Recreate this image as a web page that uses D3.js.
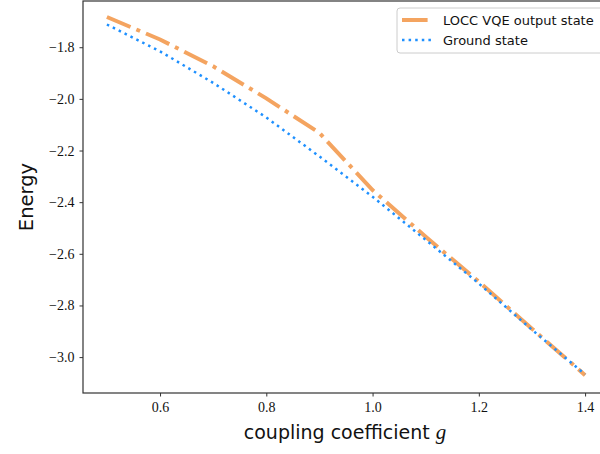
<!DOCTYPE html>
<html>
<head>
<meta charset="utf-8">
<script src="https://cdn.jsdelivr.net/npm/d3@7"></script>
<style>
  body { margin: 0; background: #fff; }
  .tick text { font-family: "Liberation Serif", "DejaVu Serif", serif; }
</style>
</head>
<body>
<div id="chart"></div>
<script>
// data
const couplingValues = [0.5, 0.6, 0.7, 0.8, 0.9, 1.0, 1.1, 1.2, 1.3, 1.4];
const loccEnergy = [-1.683, -1.770, -1.874, -1.998, -2.132, -2.353, -2.534, -2.708, -2.890, -3.070];
const groundEnergy = [-1.712, -1.816, -1.938, -2.072, -2.223, -2.379, -2.546, -2.715, -2.894, -3.067];
const xTicks = [0.6, 0.8, 1.0, 1.2, 1.4];
const yTicks = [-1.8, -2.0, -2.2, -2.4, -2.6, -2.8, -3.0];
const seriesNames = ['LOCC VQE output state', 'Ground state'];

const width = 600, height = 454;
const margin = { top: 1, right: -9, bottom: 61, left: 83 };
const innerW = width - margin.left - margin.right;
const innerH = height - margin.top - margin.bottom;

const svg = d3.select('#chart').append('svg')
  .attr('width', width)
  .attr('height', height);

const g = svg.append('g')
  .attr('transform', `translate(${margin.left},${margin.top})`);

// scales, with matplotlib style 5% padding
const xScale = d3.scaleLinear().domain([0.455, 1.445]).range([0, innerW]);
const yScale = d3.scaleLinear().domain([-3.139, -1.621]).range([innerH, 0]);

const fmtMinus = (d) => d3.format('.1f')(d).replace('-', '\u2212');

const xAxis = d3.axisBottom(xScale).tickValues(xTicks).tickSize(3.5).tickPadding(6).tickFormat(fmtMinus);
const yAxis = d3.axisLeft(yScale).tickValues(yTicks).tickSize(3.5).tickPadding(5).tickFormat(fmtMinus);

g.append('g')
  .attr('transform', `translate(0,${innerH})`)
  .call(xAxis)
  .call((a) => a.select('.domain').remove())
  .call((a) => a.selectAll('.tick line').attr('stroke', '#333').attr('stroke-width', 1))
  .call((a) => a.selectAll('.tick text').attr('font-size', 14).attr('fill', '#111'));

g.append('g')
  .call(yAxis)
  .call((a) => a.select('.domain').remove())
  .call((a) => a.selectAll('.tick line').attr('stroke', '#333').attr('stroke-width', 1))
  .call((a) => a.selectAll('.tick text').attr('font-size', 14).attr('fill', '#111'));

// spines
g.append('rect')
  .attr('x', 0).attr('y', 0)
  .attr('width', innerW).attr('height', innerH)
  .attr('fill', 'none')
  .attr('stroke', '#333')
  .attr('stroke-width', 1.2);

const line = (vals) => d3.line()
  .x((d, i) => xScale(couplingValues[i]))
  .y((d) => yScale(d))(vals);

g.append('path')
  .attr('d', line(loccEnergy))
  .attr('fill', 'none')
  .attr('stroke', '#f4a460')
  .attr('stroke-width', 4)
  .attr('stroke-dasharray', '25.6,6.4,4,6.4');

g.append('path')
  .attr('d', line(groundEnergy))
  .attr('fill', 'none')
  .attr('stroke', '#1e90ff')
  .attr('stroke-width', 2.5)
  .attr('stroke-dasharray', '2.5,4.1');

// axis labels
svg.append('text')
  .attr('x', 345).attr('y', 439)
  .attr('text-anchor', 'middle')
  .attr('font-family', '"DejaVu Sans", sans-serif')
  .attr('font-size', 19)
  .attr('fill', '#111')
  .text('coupling coefficient ')
  .append('tspan')
  .attr('font-family', '"Liberation Serif", serif')
  .attr('font-style', 'italic')
  .attr('font-size', 21)
  .text('g');

svg.append('text')
  .attr('transform', `translate(33,197) rotate(-90)`)
  .attr('text-anchor', 'middle')
  .attr('font-family', '"DejaVu Sans", sans-serif')
  .attr('font-size', 19.5)
  .attr('fill', '#111')
  .text('Energy');

// legend
const legend = svg.append('g').attr('transform', 'translate(397,8)');
legend.append('rect')
  .attr('width', 215).attr('height', 45)
  .attr('rx', 3)
  .attr('fill', '#fff')
  .attr('fill-opacity', 0.8)
  .attr('stroke', '#ccc');

const legendStyles = [
  { color: '#f4a460', width: 4, dash: '25.6,6.4,4,6.4' },
  { color: '#1e90ff', width: 2.5, dash: '2.5,4.1' },
];

seriesNames.forEach((name, i) => {
  const yy = 12 + i * 20;
  legend.append('line')
    .attr('x1', 5).attr('x2', 34)
    .attr('y1', yy).attr('y2', yy)
    .attr('stroke', legendStyles[i].color)
    .attr('stroke-width', legendStyles[i].width)
    .attr('stroke-dasharray', legendStyles[i].dash);
  legend.append('text')
    .attr('x', 46).attr('y', yy + 5)
    .attr('font-family', '"DejaVu Sans", sans-serif')
    .attr('font-size', 13)
    .attr('fill', '#111')
    .text(name);
});
</script>
</body>
</html>
